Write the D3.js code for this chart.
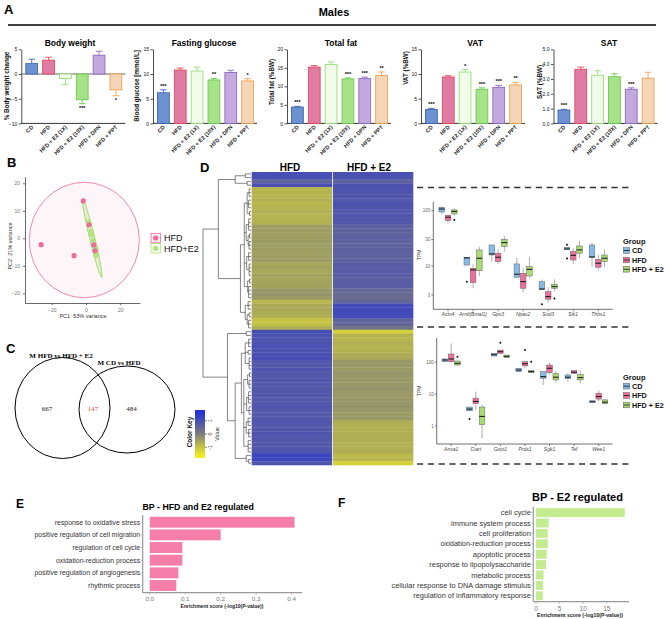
<!DOCTYPE html>
<html><head><meta charset="utf-8">
<script src="https://cdn.jsdelivr.net/npm/d3@7"></script>
<style>body{margin:0;background:#fff}svg{display:block;font-family:"Liberation Sans",Arial,sans-serif}</style>
</head><body><svg id="c" width="669" height="619"></svg>
<script>
// ---------------- DATA ----------------
const groupsA = ["CD","HFD","HFD + E2 (1X)","HFD + E2 (10X)","HFD + DPN","HFD + PPT"];
const bodyWeight = [2.1, 2.8, -0.9, -5.2, 3.8, -3.2];
const bodyWeightErr = [0.9, 0.6, 1.2, 0.8, 0.8, 1.2];
const sigBody = ["","","","***","","*"];
const glucose = [6.2, 10.8, 10.6, 8.8, 10.3, 8.6];
const glucoseErr = [0.6, 0.4, 0.8, 0.3, 0.45, 0.45];
const sigGlucose = ["***","","","**","","*"];
const totalFat = [4.4, 15.2, 15.9, 12.0, 12.1, 12.9];
const totalFatErr = [0.2, 0.4, 0.7, 0.3, 0.4, 1.0];
const sigFat = ["***","","","***","***","**"];
const vat = [2.8, 9.4, 10.4, 6.9, 7.3, 7.8];
const vatErr = [0.25, 0.25, 0.5, 0.3, 0.4, 0.5];
const sigVat = ["***","","*","***","***","**"];
const sat = [0.9, 3.65, 3.25, 3.15, 2.3, 3.05];
const satErr = [0.05, 0.15, 0.3, 0.2, 0.1, 0.4];
const sigSat = ["***","","","","***",""];

const pcaGroups = ["HFD","HFD+E2"];
const pcaHFD = [[-26.3,-2.3],[-7,-6.3],[-1.6,13.6],[1.75,4.9],[4.5,-2.4],[5.3,-4.5]];
const pcaE2 = [[1.5,6.0],[2.8,2.6],[3.2,1.3],[4.3,-0.6],[5.9,-3.6],[5.8,-6.1]];
const pcaEllipseHFD = {cx:-1, cy:-0.6, rx:32.2, ry:21};
const pcaEllipseE2 = [[-1.9,14.2],[9.2,-14.2]];
const pcaXTicks = [-20,0,20], pcaYTicks = [-20,-10,0,10,20];

const vennTitles = ["M HFD vs HFD + E2","M CD vs HFD"];
const vennCounts = [667, 147, 484];

const heatCols = ["HFD","HFD + E2"];
const heatHFD = [1.0,0.95,0.55,0.95,
 -0.8,-0.75,-0.78,-0.72,-0.8,-0.76,-0.7,-0.78,-0.74,-0.72,
 -0.45,-0.42,-0.48,-0.44,-0.4,-0.46,-0.43,-0.47,-0.44,-0.42,
 -0.55,-0.52,-0.58,-0.5,-0.55,-0.53,-0.5,
 -0.35,-0.32,-0.38,-0.8,-0.62,-0.6,-0.65,-0.7,-1.0,-0.95,-0.7,
 1.0,0.92,0.88,0.9,0.94,0.9,0.95,0.98,
 0.82,0.8,0.85,0.78,0.8,0.83,0.8,0.76,0.8,0.82,0.79,0.8,0.84,0.8,0.78,0.8,
 0.85,0.8,0.82,0.86,0.8,0.83,0.8,0.82,0.85,1.2,1.15,0.85];
const heatE2 = [0.95,0.9,0.6,0.9,
 0.9,0.85,0.88,0.82,0.9,0.86,0.8,0.85,0.83,0.8,
 0.62,0.6,0.58,0.63,0.6,0.57,0.62,0.6,0.58,0.6,
 0.7,0.68,0.72,0.7,0.66,0.7,0.68,
 0.45,0.42,0.4,0.5,1.05,1.1,1.08,1.05,0.55,0.5,0.25,
 -1.2,-0.75,-0.8,-0.7,-0.78,-0.72,-0.65,-0.6,
 -0.36,-0.34,-0.4,-0.32,-0.34,-0.36,-0.34,-0.3,-0.34,-0.38,-0.34,-0.36,-0.32,-0.34,-0.4,-0.36,
 -0.65,-0.7,-0.72,-0.68,-0.7,-0.66,-0.72,-0.7,-0.68,-0.85,-0.8,-1.2];
const dendro = [1.0,
  [0.68,
    [0.33,[0.12,0,1],[0.08,2,3]],
    [0.22,
      [0.14,[0.08,[0.04,4,5,6],[0.05,7,8,9],[0.03,10,11]],[0.1,[0.05,12,13,14,15],[0.06,[0.03,16,17],[0.04,18,19,20]]],[0.09,[0.05,21,22,23],[0.04,24,25,26,27]],[0.07,[0.03,28,29],[0.05,30,31,32,33]]],
      [0.12,[0.06,34,35,36],[0.08,[0.04,37,38],[0.05,39,40,41]]]]],
  [0.49,
    [0.1,42,43],
    [0.33,
      [0.2,[0.12,[0.05,44,45,46],[0.06,47,48],[0.04,49,50,51,52]],[0.15,[0.07,[0.03,53,54],[0.04,55,56,57]],[0.09,[0.05,58,59,60,61],[0.04,62,63,64]],[0.1,[0.06,65,66,67],[0.05,68,69,70]],[0.06,71,72,73,74]]],
      [0.1,75,[0.05,76,77]]]]];
const keyTicks = [-1,0,1];

const boxGroups = ["CD","HFD","HFD + E2"];
const genesTop = ["Actn4","Arntl(Bmal1)","Gpx3","Npas2","Sod3","Sik1","Thbs1"];
// [lower whisker, q1, median, q3, upper whisker] in TPM
const topCD  = [[86,94.6,107,115,122],[10.4,10.4,14,14.4,14.4],[12,15.8,16.5,24,24],[6.25,6.25,7.1,10.9,14],[3.7,3.8,3.84,5.2,5.7],[20,20,20.3,21.8,21.8],[9.7,14.4,14.6,24,26.4]];
const topHFD = [[59,66,76,82.6,84.7],[3.95,5.0,8.5,9.1,10.7],[10.9,12,14.4,17,20],[3.3,3.95,5.2,7.4,9.1],[2.17,2.5,2.79,3.43,4.12],[10.9,12.8,15.6,18.2,20.9],[8.5,9.5,11.2,13.2,15.8]];
const topE2  = [[81,87,97,103,110],[6.6,8.2,13.8,19.5,22.3],[18.2,22.3,26.4,30.4,34.8],[6.0,6.6,8.7,9.7,14.7],[3.54,3.95,4.23,4.67,5.74],[13.8,17,19.5,23,28.6],[9.7,12,13.8,15.8,20]];
const topOutCD = [[1,5.2],[4,2.03],[5,24.3],[5,13.6]], topOutHFD = [], topOutE2 = [[0,67.9],[4,2.58]];
const topTicks = [3,10,30,100];
const genesBot = ["Anxa1","Ciart","Gsto1","Prdx1","Sgk1","Tef","Wee1"];
const botCD  = [[102,104,118,127,136],[3.0,3.0,3.4,3.93,3.93],[157,157,173,191,191],[51,51,57,65,65],[19.5,31.6,35.5,51,51],[24.8,30.7,34,40,45],[5.5,5.5,5.75,6.2,6.2]];
const botHFD = [[97,104,127,182,392],[3.2,5.0,5.9,7.5,12],[191,191,214,242,242],[65,77,90,104,104],[42,47,65,82,97],[45,45,48.7,55,55],[5.9,7.0,8.4,10.7,13]];
const botE2  = [[77,82,93,110,110],[0.42,1.1,2.0,3.93,4.6],[139,139,154,169,169],[47,47,51,55,55],[23,28,34,45,53.5],[22,28,33,42,55],[4.6,5.0,5.6,6.6,7.1]];
const botOutCD = [[1,1.66]], botOutHFD = [[2,410],[3,242]], botOutE2 = [[0,150],[3,104]];
const botTicks = [1,10,100];

const bpE = ["response to oxidative stress","positive regulation of cell migration","regulation of cell cycle","oxidation-reduction process","positive regulation of angiogenesis","rhythmic process"];
const scoreE = [0.408, 0.2, 0.092, 0.092, 0.081, 0.075];
const ticksE = [0.0,0.1,0.2,0.3,0.4];
const bpF = ["cell cycle","immune system process","cell proliferation","oxidation-reduction process","apoptotic process","response to lipopolysaccharide","metabolic process","cellular response to DNA damage stimulus","regulation of inflammatory response"];
const scoreF = [18.8, 2.7, 2.5, 2.5, 2.25, 2.1, 1.6, 1.5, 1.45];
const ticksF = [0,5,10,15];

// ---------------- DRAW ----------------
const svg = d3.select("#c");
svg.append("rect").attr("width",669).attr("height",619).attr("fill","#fff");
function T(g,x,y,s,o={}){
  const t=g.append("text").attr("x",x).attr("y",y).text(s)
   .attr("font-size",o.size||8).attr("font-weight",o.bold?"bold":"normal")
   .attr("text-anchor",o.anchor||"start").attr("fill",o.fill||"#000");
  if(o.rotate!=null) t.attr("transform",`rotate(${o.rotate},${x},${y})`);
  if(o.family) t.attr("font-family",o.family);
  if(o.italic) t.attr("font-style","italic");
  return t;
}
function L(g,x1,y1,x2,y2,c="#000",w=0.8,dash){
  const l=g.append("line").attr("x1",x1).attr("y1",y1).attr("x2",x2).attr("y2",y2).attr("stroke",c).attr("stroke-width",w);
  if(dash) l.attr("stroke-dasharray",dash); return l;
}

// Panel labels
[["A",4,14,13],["B",7,167,13],["C",6,353,13],["D",200,172,13],["E",16,508,12],["F",338,507,12]]
  .forEach(([s,x,y,sz])=>T(svg,x,y,s,{size:sz,bold:true}));

// ---------- Panel A ----------
T(svg,334,16,"Males",{size:11,bold:true,anchor:"middle"});
L(svg,8,25,656,25,"#000",1.5);
const barFill=["#6d92d2","#e07ca3","#f1fbe9","#a6e388","#c3a9dd","#f4d5b8"];
const barStroke=["#3e64b3","#e5485e","#96df78","#6ccb4a","#9068c2","#f0a24f"];
const panelsA=[
 {title:"Body weight",ylab:"% Body weight change",v:bodyWeight,e:bodyWeightErr,s:sigBody,dom:[-10,5],ticks:[-10,-5,0,5],x0:21.3,tx:70,lx:9,ly:86},
 {title:"Fasting glucose",ylab:"Blood glucose [mmol/L]",v:glucose,e:glucoseErr,s:sigGlucose,dom:[0,15],ticks:[0,5,10,15],x0:153,tx:204,lx:139,ly:86},
 {title:"Total fat",ylab:"Total fat (%BW)",v:totalFat,e:totalFatErr,s:sigFat,dom:[0,20],ticks:[0,5,10,15,20],x0:287,tx:341,lx:274,ly:82},
 {title:"VAT",ylab:"VAT (%BW)",v:vat,e:vatErr,s:sigVat,dom:[0,15],ticks:[0,5,10,15],x0:421,tx:475,lx:408,ly:68},
 {title:"SAT",ylab:"SAT (%BW)",v:sat,e:satErr,s:sigSat,dom:[0,5],ticks:[0,1,2,3,4,5],x0:553.5,tx:609,lx:542,ly:82}
];
panelsA.forEach(p=>{
  const g=svg.append("g");
  const y=d3.scaleLinear().domain(p.dom).range([123.4,49.3]);
  const x=d3.scaleBand().domain(groupsA).range([p.x0+2,p.x0+103]).paddingInner(0.3).paddingOuter(0.15);
  const ax=g.append("g").attr("transform",`translate(${p.x0},0)`)
    .call(d3.axisLeft(y).tickValues(p.ticks).tickSize(2.5).tickSizeOuter(0).tickPadding(1.5));
  ax.selectAll("path,line").attr("stroke","#000").attr("stroke-width",0.7);
  ax.selectAll("text").attr("font-size",5).attr("font-family",'"Liberation Sans",Arial,sans-serif').attr("fill","#111");
  L(g,p.x0,123.4,p.x0+104,123.4,"#000",0.8);
  if(p.dom[0]<0) L(g,p.x0,y(0),p.x0+104,y(0),"#444",0.8);
  groupsA.forEach((gr,i)=>{
    const v=p.v[i], e=p.e[i], bx=x(gr), bw=x.bandwidth(), cx=bx+bw/2;
    const end=v>=0? y(v+e): y(v-e);
    L(g,cx,y(v),cx,end,barStroke[i],0.9);
    L(g,cx-3.3,end,cx+3.3,end,barStroke[i],0.9);
    g.append("rect").attr("x",bx).attr("width",bw).attr("y",Math.min(y(0),y(v))).attr("height",Math.abs(y(v)-y(0)))
     .attr("fill",barFill[i]).attr("stroke",barStroke[i]).attr("stroke-width",0.9);
    if(p.s[i]) T(g,cx,v>=0? end-2: end+6,p.s[i],{size:5.5,anchor:"middle",bold:true});
    T(g,cx+2,127.5,gr,{size:5.5,bold:true,anchor:"end",rotate:-45,fill:"#222"});
  });
  T(g,p.tx,46,p.title,{size:8.5,bold:true,anchor:"middle"});
  T(g,p.lx,p.ly,p.ylab,{size:6.3,bold:true,anchor:"middle",rotate:-90,fill:"#111"});
});

// ---------- Panel B (PCA) ----------
(function(){
  const g=svg.append("g");
  const x=d3.scaleLinear().domain([-35.7,31.6]).range([25,140]);
  const y=d3.scaleLinear().domain([-23.5,22.3]).range([303,177]);
  const pink="#f06c9b", green="#b3e37f";
  g.append("ellipse").attr("cx",x(pcaEllipseHFD.cx)).attr("cy",y(pcaEllipseHFD.cy))
   .attr("rx",x(pcaEllipseHFD.rx)-x(0)).attr("ry",y(0)-y(pcaEllipseHFD.ry))
   .attr("fill","rgba(240,108,155,0.07)").attr("stroke",pink).attr("stroke-width",0.8);
  const [p1,p2]=pcaEllipseE2.map(d=>[x(d[0]),y(d[1])]);
  const len=Math.hypot(p2[0]-p1[0],p2[1]-p1[1])/2, ang=Math.atan2(p2[1]-p1[1],p2[0]-p1[0])*180/Math.PI;
  g.append("ellipse").attr("cx",(p1[0]+p2[0])/2).attr("cy",(p1[1]+p2[1])/2).attr("rx",len).attr("ry",2.6)
   .attr("transform",`rotate(${ang},${(p1[0]+p2[0])/2},${(p1[1]+p2[1])/2})`)
   .attr("fill","rgba(179,227,127,0.35)").attr("stroke","#98d766").attr("stroke-width",0.8);
  pcaE2.forEach(d=>g.append("circle").attr("cx",x(d[0])).attr("cy",y(d[1])).attr("r",2.6).attr("fill",green));
  pcaHFD.forEach(d=>g.append("circle").attr("cx",x(d[0])).attr("cy",y(d[1])).attr("r",2.6).attr("fill",pink));
  const ax=g.append("g").attr("transform","translate(0,303)").call(d3.axisBottom(x).tickValues(pcaXTicks).tickSize(2).tickSizeOuter(0));
  const ay=g.append("g").attr("transform","translate(25,0)").call(d3.axisLeft(y).tickValues(pcaYTicks).tickSize(2).tickSizeOuter(0));
  [ax,ay].forEach(a=>{a.selectAll("path,line").attr("stroke","#444").attr("stroke-width",0.8);
    a.selectAll("text").attr("font-size",5).attr("fill","#777").attr("font-family",'"Liberation Sans",Arial,sans-serif');});
  T(g,83,318,"PC1: 53% variance",{size:5.5,anchor:"middle",fill:"#333"});
  T(g,12,246,"PC2: 21% variance",{size:5.5,anchor:"middle",rotate:-90,fill:"#333"});
  [[pcaGroups[0],pink,238],[pcaGroups[1],green,248.3]].forEach(([s,c,cy])=>{
    g.append("rect").attr("x",151).attr("y",cy-4.7).attr("width",9.4).attr("height",9.4).attr("fill",c).attr("fill-opacity",0.12).attr("stroke",c).attr("stroke-width",0.8);
    g.append("circle").attr("cx",155.7).attr("cy",cy).attr("r",2.6).attr("fill",c);
    T(g,164,cy+3.2,s,{size:9,fill:"#111"});
  });
})();

// ---------- Panel C (Venn) ----------
(function(){
  const g=svg.append("g"), serif='"Liberation Serif","Times New Roman",serif';
  g.append("ellipse").attr("cx",62.5).attr("cy",408).attr("rx",47.5).attr("ry",50.5).attr("fill","none").attr("stroke","#000").attr("stroke-width",1);
  g.append("ellipse").attr("cx",127).attr("cy",409.5).attr("rx",48).attr("ry",43.5).attr("fill","none").attr("stroke","#000").attr("stroke-width",1);
  T(g,61,358,vennTitles[0],{size:7,bold:true,anchor:"middle",family:serif});
  T(g,119,364.5,vennTitles[1],{size:7,bold:true,anchor:"middle",family:serif});
  [[47,vennCounts[0],"#222"],[93,vennCounts[1],"#e4463c"],[131.5,vennCounts[2],"#222"]]
    .forEach(([x,s,c])=>T(g,x,410.5,s,{size:7,anchor:"middle",family:serif,fill:c}));
})();

// ---------- Panel D (heatmap) ----------
const heatColor=d3.scaleLinear().domain([-1.6,0,1.6]).range(["#f0ee20","#7f7f7b","#2530d8"]).clamp(true);
(function(){
  const g=svg.append("g");
  const rows=d3.range(heatHFD.length);
  const ry=d3.scaleBand().domain(rows).range([172,465]);
  const cx=d3.scaleBand().domain(heatCols).range([251.7,413.3]);
  [heatHFD,heatE2].forEach((vals,ci)=>{
    rows.forEach(r=>g.append("rect").attr("x",cx(heatCols[ci])+(ci?0.4:0)).attr("y",ry(r))
      .attr("width",cx.bandwidth()-0.4).attr("height",ry.bandwidth()+0.3).attr("fill",heatColor(vals[r])));
  });
  T(g,290,171,heatCols[0],{size:10,bold:true,anchor:"middle"});
  T(g,369,171,heatCols[1],{size:10,bold:true,anchor:"middle"});
  const xh=d3.scaleLinear().domain([0,1]).range([251,203]);
  const rowY=i=>ry(i)+ry.bandwidth()/2;
  function lay(n){ if(typeof n==="number") return {y:rowY(n),h:0,leaf:true};
    const kids=n.slice(1).map(lay); return {y:(kids[0].y+kids[kids.length-1].y)/2,h:n[0],kids}; }
  function draw(nd){ if(nd.leaf) return; const x=xh(nd.h);
    L(g,x,nd.kids[0].y,x,nd.kids[nd.kids.length-1].y,"#333",0.6);
    nd.kids.forEach(k=>{L(g,x,k.y,xh(k.h),k.y,"#333",0.6); draw(k);}); }
  draw(lay(dendro));
  const ky=d3.scaleLinear().domain([-1.8,1.8]).range([458,410]);
  const grad=svg.append("defs").append("linearGradient").attr("id","kg").attr("x1",0).attr("y1",1).attr("x2",0).attr("y2",0);
  d3.range(-1.8,1.81,0.3).forEach(v=>grad.append("stop").attr("offset",(v+1.8)/3.6).attr("stop-color",heatColor(v)));
  g.append("rect").attr("x",195).attr("y",410).attr("width",10).attr("height",48).attr("fill","url(#kg)");
  keyTicks.forEach(v=>{L(g,205,ky(v),207,ky(v),"#333",0.6);
    T(g,212,ky(v),v,{size:5.5,anchor:"middle",rotate:-90,fill:"#333"});});
  T(g,218.5,434,"Value",{size:5.5,anchor:"middle",rotate:-90,fill:"#333"});
  T(g,192,432,"Color Key",{size:6.5,bold:true,anchor:"middle",rotate:-90,fill:"#111"});
  [187.5,327,464].forEach(yy=>L(g,417,yy,630,yy,"#333",1.6,"6.2,4.6"));
})();

// ---------- Boxplots ----------
const boxFill=["#84bbe8","#f06e9c","#a8dc72"];
function boxPanel(genes,stats,outs,xr,axisX,yDom,yTop,yBot,ticks,tpmY,legY){
  const g=svg.append("g");
  const y=d3.scaleLog().domain(yDom).range([yBot,yTop]);
  const xg=d3.scaleBand().domain(genes).range(xr);
  const xs=d3.scaleBand().domain(boxGroups).range([-9.4,9.4]);
  L(g,axisX,yTop,axisX,yBot,"#333",0.7);
  L(g,axisX,yBot,612.7,yBot,"#333",0.7);
  ticks.forEach(t=>{L(g,axisX-2,y(t),axisX,y(t),"#333",0.6);
    T(g,axisX-3,y(t)+1.6,t,{size:4.5,anchor:"end",fill:"#666"});});
  genes.forEach(gn=>{const c=xg(gn)+xg.bandwidth()/2; L(g,c,yBot,c,yBot+2,"#333",0.6);
    T(g,c,yBot+6.5,gn,{size:5,italic:true,anchor:"middle",fill:"#444"});});
  boxGroups.forEach((gr,gi)=>{
    stats[gi].forEach((s,k)=>{
      const cx=xg(genes[k])+xg.bandwidth()/2+xs(gr)+xs.bandwidth()/2;
      L(g,cx,y(s[0]),cx,y(s[4]),"#777",0.6);
      g.append("rect").attr("x",cx-2.8).attr("y",y(s[3])).attr("width",5.6).attr("height",Math.max(0.8,y(s[1])-y(s[3])))
        .attr("fill",boxFill[gi]).attr("stroke","#666").attr("stroke-width",0.5);
      L(g,cx-2.8,y(s[2]),cx+2.8,y(s[2]),"#111",1);
    });
    outs[gi].forEach(([k,v])=>{const cx=xg(genes[k])+xg.bandwidth()/2+xs(gr)+xs.bandwidth()/2;
      g.append("circle").attr("cx",cx).attr("cy",y(v)).attr("r",1).attr("fill","#111");});
  });
  T(g,421,tpmY,"TPM",{size:5,anchor:"middle",rotate:-90,fill:"#333"});
  T(g,623,legY[0],"Group",{size:7.5,bold:true,fill:"#111"});
  boxGroups.forEach((gr,gi)=>{const cy=legY[gi+1];
    g.append("rect").attr("x",623.5).attr("y",cy-2.8).attr("width",6).attr("height",5.6).attr("fill",boxFill[gi]).attr("stroke","#555").attr("stroke-width",0.5);
    L(g,623.5,cy,629.5,cy,"#111",0.8);
    T(g,632,cy+2.6,gr,{size:7.2,bold:true,fill:"#111"});
  });
}
boxPanel(genesTop,[topCD,topHFD,topE2],[topOutCD,topOutHFD,topOutE2],[435.5,610.8],433.3,[1.65,145],201.7,309.3,topTicks,255,[243.5,250.5,260,269.3]);
boxPanel(genesBot,[botCD,botHFD,botE2],[botOutCD,botOutHFD,botOutE2],[438.9,611],436.7,[0.272,579],338,444,botTicks,391,[379.5,386.2,395.5,405]);

// ---------- Panel E / F ----------
function goPanel(terms,scores,ticks,xDom,xr,yr,color,title,titleXY,o){
  const g=svg.append("g");
  const x=d3.scaleLinear().domain(xDom).range(xr);
  const y=d3.scaleBand().domain(terms).range(yr).paddingInner(0.14).paddingOuter(0.14);
  terms.forEach((t,i)=>{
    g.append("rect").attr("x",x(0)).attr("y",y(t)).attr("width",x(scores[i])-x(0)).attr("height",y.bandwidth()).attr("fill",color);
    L(g,xr[0]-2,y(t)+y.bandwidth()/2,xr[0],y(t)+y.bandwidth()/2,"#999",0.6);
    T(g,xr[0]-2.5,y(t)+y.bandwidth()/2+o.lab*0.36,t,{size:o.lab,anchor:"end",fill:"#333"});
  });
  L(g,xr[0],yr[0],xr[0],yr[1],"#9a9a9a",1.2);
  L(g,xr[0],yr[1],xr[1],yr[1],"#9a9a9a",1.2);
  ticks.forEach(t=>{L(g,x(t),yr[1],x(t),yr[1]+2,"#999",0.6);
    T(g,x(t),yr[1]+2.5+o.tick,o.fmt(t),{size:o.tick,anchor:"middle",fill:"#777"});});
  T(g,o.axX,o.axY,"Enrichment score (-log10(P-value))",{size:o.ax,bold:true,anchor:"middle",fill:"#222"});
  T(g,titleXY[0],titleXY[1],title,{size:o.title,bold:true});
}
goPanel(bpE,scoreE,ticksE,[-0.0197,0.43],[142.7,302.3],[515,592.7],"#f47ea8","BP - HFD and E2 regulated",[142.5,509.5],
  {lab:6.9,tick:6.2,ax:5,axX:222,axY:607.5,title:8.8,fmt:d3.format(".1f")});
goPanel(bpF,scoreF,ticksF,[-0.57,19.7],[533.3,629],[506.7,601.7],"#c3eb8f","BP - E2 regulated",[532,500.5],
  {lab:7.4,tick:6.5,ax:5.2,axX:580,axY:617,title:11,fmt:d=>d});
</script></body></html>
